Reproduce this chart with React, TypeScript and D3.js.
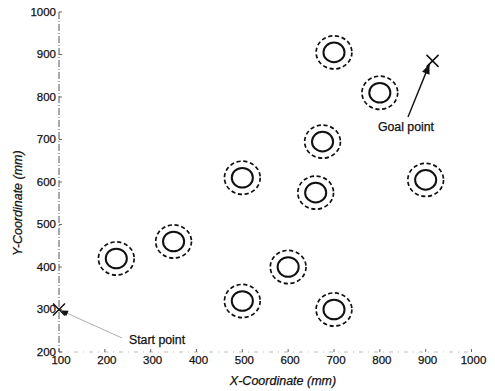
import { useEffect, useRef } from 'react'
import * as d3 from 'd3'

// obstacle centres (mm)
const obstacleX = [225, 350, 500, 500, 600, 660, 675, 700, 700, 800, 900]
const obstacleY = [420, 460, 610, 320, 400, 575, 695, 905, 300, 810, 605]
const innerR = 23 // mm
const outerR = 39 // mm

const startPoint: [number, number] = [100, 300]
const goalPoint: [number, number] = [915, 885]

const xTicks = [100, 200, 300, 400, 500, 600, 700, 800, 900, 1000]
const yTicks = [200, 300, 400, 500, 600, 700, 800, 900, 1000]

const W = 495
const H = 391
const FONT = 'Arial, "Liberation Sans", Helvetica, sans-serif'

export default function App() {
  const ref = useRef<SVGSVGElement>(null)

  useEffect(() => {
    if (!ref.current) return
    const svg = d3.select(ref.current)
    svg.selectAll('*').remove()

    const x = d3.scaleLinear().domain([100, 1000]).range([59, 471.5])
    const y = d3.scaleLinear().domain([200, 1000]).range([352, 12])
    const kx = x(200) - x(100)
    const ky = y(200) - y(300)

    svg.append('rect').attr('width', W).attr('height', H).attr('fill', '#fff')

    // axes
    svg.append('line')
      .attr('x1', x(100)).attr('x2', x(100)).attr('y1', y(1000)).attr('y2', y(200))
      .attr('stroke', '#444').attr('stroke-width', 0.9).attr('stroke-dasharray', '7,2,1,2')
    svg.append('line')
      .attr('x1', x(100)).attr('x2', x(1000)).attr('y1', y(200)).attr('y2', y(200))
      .attr('stroke', '#aaa').attr('stroke-width', 0.8).attr('stroke-dasharray', '4,5,1,5')

    svg.selectAll('.xt').data(xTicks).enter().append('line')
      .attr('x1', d => x(d)).attr('x2', d => x(d))
      .attr('y1', y(200)).attr('y2', y(200) - 3)
      .attr('stroke', '#444').attr('stroke-width', 0.8)
    svg.selectAll('.yt').data(yTicks).enter().append('line')
      .attr('x1', x(100)).attr('x2', x(100) + 3)
      .attr('y1', d => y(d)).attr('y2', d => y(d))
      .attr('stroke', '#444').attr('stroke-width', 0.8)

    const txt = (sel: d3.Selection<SVGTextElement, any, any, any>, size: number) =>
      sel.attr('font-family', FONT).attr('font-size', size).attr('fill', '#111')
        .attr('stroke', '#111').attr('stroke-width', 0.25)

    txt(svg.selectAll('.xl').data(xTicks).enter().append('text')
      .attr('x', d => x(d) + 2).attr('y', 364)
      .attr('text-anchor', 'middle'), 11.5)
      .text(d => d)
    txt(svg.selectAll('.yl').data(yTicks).enter().append('text')
      .attr('x', 56).attr('y', d => y(d) + 3.5)
      .attr('text-anchor', 'end'), 11.5)
      .text(d => d)

    txt(svg.append('text')
      .attr('x', 283).attr('y', 385)
      .attr('text-anchor', 'middle').attr('font-style', 'italic'), 12.5)
      .text('X-Coordinate (mm)')
    txt(svg.append('text')
      .attr('transform', `translate(22,${203}) rotate(-90)`)
      .attr('text-anchor', 'middle').attr('font-style', 'italic'), 12.5)
      .text('Y-Coordinate (mm)')

    // obstacles
    const obs = obstacleX.map((v, i) => [v, obstacleY[i]] as [number, number])
    const g = svg.append('g')
    g.selectAll('.outer').data(obs).enter().append('ellipse')
      .attr('cx', d => x(d[0])).attr('cy', d => y(d[1]))
      .attr('rx', outerR / 100 * kx).attr('ry', outerR / 100 * ky)
      .attr('fill', 'none').attr('stroke', '#111').attr('stroke-width', 1.7)
      .attr('stroke-dasharray', '4.2,2.6')
    g.selectAll('.inner').data(obs).enter().append('ellipse')
      .attr('cx', d => x(d[0])).attr('cy', d => y(d[1]))
      .attr('rx', innerR / 100 * kx).attr('ry', innerR / 100 * ky)
      .attr('fill', 'none').attr('stroke', '#111').attr('stroke-width', 2)

    // start / goal crosses
    const cross = (p: [number, number]) => {
      const cx = x(p[0]), cy = y(p[1]), s = 6
      svg.append('path')
        .attr('d', `M${cx - s},${cy - s}L${cx + s},${cy + s}M${cx - s},${cy + s}L${cx + s},${cy - s}`)
        .attr('stroke', '#111').attr('stroke-width', 1.5).attr('fill', 'none')
    }
    cross(startPoint)
    cross(goalPoint)

    // arrows
    const arrow = (x0: number, y0: number, x1: number, y1: number, color: string, w: number, head: number) => {
      svg.append('line')
        .attr('x1', x0).attr('y1', y0).attr('x2', x1).attr('y2', y1)
        .attr('stroke', color).attr('stroke-width', w)
      const a = Math.atan2(y1 - y0, x1 - x0)
      const hw = head * 0.4
      const bx = x1 - head * Math.cos(a), by = y1 - head * Math.sin(a)
      svg.append('path')
        .attr('d', `M${x1},${y1}L${bx + hw * Math.sin(a)},${by - hw * Math.cos(a)}L${bx - hw * Math.sin(a)},${by + hw * Math.cos(a)}Z`)
        .attr('fill', '#111')
    }
    const gx = x(goalPoint[0]), gy = y(goalPoint[1])
    arrow(408, 117, gx - 3, gy + 3, '#111', 1.4, 10)
    txt(svg.append('text')
      .attr('x', 406).attr('y', 131)
      .attr('text-anchor', 'middle'), 12.3)
      .text('Goal point')

    const sx = x(startPoint[0]), sy = y(startPoint[1])
    arrow(122, 338, sx + 2, sy + 1, '#999', 0.8, 7)
    txt(svg.append('text')
      .attr('x', 129).attr('y', 344), 12.3)
      .text('Start point')
  }, [])

  return (
    <svg ref={ref} width={W} height={H}
      style={{ position: 'absolute', left: 0, top: 0, display: 'block' }} />
  )
}
